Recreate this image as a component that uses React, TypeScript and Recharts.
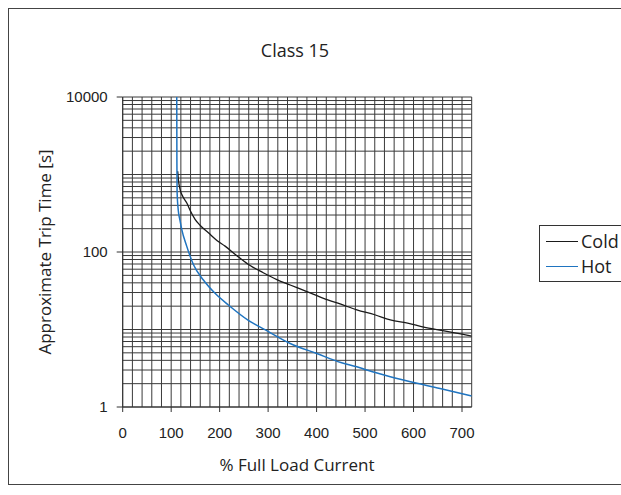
import React from 'react';
import { LineChart, Line, XAxis, YAxis, CartesianGrid, Legend } from 'recharts';

const coldCurrent = [113.5, 115, 118.3, 124, 132, 140, 149.3, 160, 176.8, 195, 211.2, 235, 259.4, 290, 318, 345.5, 380, 414.3, 450, 483, 520, 552, 590, 621, 660, 700, 720];
const coldTime = [1100, 850, 643, 520, 432, 335, 264, 220, 177, 140, 119, 90, 69, 54, 44, 37.5, 30.8, 25.2, 21.2, 17.9, 15.5, 13.3, 12, 10.7, 9.7, 8.7, 8.2];

const hotCurrent = [111.5, 111.8, 112.2, 114.8, 118, 121.8, 132, 145.8, 166.5, 190, 218, 260, 300.7, 345.5, 400.5, 450, 483, 503.8, 552, 607, 659, 720];
const hotTime = [10000, 1500, 600, 338, 260, 196, 119, 69, 43.5, 29.5, 20.7, 13, 9.4, 6.6, 4.9, 3.75, 3.31, 3.0, 2.46, 2.02, 1.71, 1.39];

const xGridTicks = [0, 20, 40, 60, 80, 100, 120, 140, 160, 180, 200, 220, 240, 260, 280, 300, 320, 340, 360, 380, 400, 420, 440, 460, 480, 500, 520, 540, 560, 580, 600, 620, 640, 660, 680, 700, 720];
const xLabelTicks = [0, 100, 200, 300, 400, 500, 600, 700];
const yGridTicks = [1, 2, 3, 4, 5, 6, 7, 8, 9, 10, 20, 30, 40, 50, 60, 70, 80, 90, 100, 200, 300, 400, 500, 600, 700, 800, 900, 1000, 2000, 3000, 4000, 5000, 6000, 7000, 8000, 9000, 10000];
const yLabelTicks = [1, 100, 10000];

const seriesNames = ['Cold', 'Hot'];
const seriesColors = ['#1a1a1a', '#1f74c0'];

const coldData = coldCurrent.map((x, i) => ({ x, y: coldTime[i] }));
const hotData = hotCurrent.map((x, i) => ({ x, y: hotTime[i] }));

const tickFont = '"Liberation Sans", Arial, sans-serif';
const labelFont = '"Open Sans", "Noto Sans", sans-serif';

const XTick = (props: any) => {
  const { x, y, payload } = props;
  if (!xLabelTicks.includes(payload.value)) return <g />;
  return (
    <g>
      <line x1={x} x2={x} y1={y} y2={y + 5} stroke="#333" />
      <text x={x} y={y + 31} textAnchor="middle" fontFamily={tickFont} fontSize={15} fill="#222">
        {payload.value}
      </text>
    </g>
  );
};

const YTick = (props: any) => {
  const { x, y, payload } = props;
  if (!yLabelTicks.includes(payload.value)) return <g />;
  return (
    <g>
      <line x1={x - 6} x2={x} y1={y} y2={y} stroke="#333" />
      <text x={x - 15} y={y + 5} textAnchor="end" fontFamily={tickFont} fontSize={15} fill="#222">
        {payload.value}
      </text>
    </g>
  );
};

const LegendBox = (props: any) => {
  const items = props.payload || [];
  return (
    <div
      style={{
        border: '1px solid #333',
        background: '#fff',
        width: 110,
        height: 57,
        boxSizing: 'border-box',
        paddingTop: 3,
        fontFamily: labelFont,
        fontSize: 18,
        color: '#222',
      }}
    >
      {items.map((it: any) => (
        <div key={it.value} style={{ display: 'flex', alignItems: 'center', height: 25, paddingLeft: 6 }}>
          <div style={{ width: 32, height: 0, borderTop: `1.5px solid ${it.color}`, marginRight: 3 }} />
          <span style={{ lineHeight: '25px', whiteSpace: 'nowrap' }}>{it.value}</span>
        </div>
      ))}
    </div>
  );
};

export default function App() {
  return (
    <div
      style={{
        position: 'fixed',
        left: 8,
        top: 8,
        width: 613,
        height: 477,
        overflow: 'hidden',
        background: '#fff',
      }}
    >
      <div
        style={{
          position: 'absolute',
          left: 0,
          top: 0,
          width: 700,
          height: 477,
          boxSizing: 'border-box',
          borderLeft: '1px solid #444',
          borderTop: '1px solid #444',
          borderBottom: '1px solid #444',
        }}
      />
      <div
        style={{
          position: 'absolute',
          left: 187,
          width: 200,
          top: 30,
          textAlign: 'center',
          fontFamily: labelFont,
          fontSize: 18,
          color: '#222',
        }}
      >
        Class 15
      </div>
      <div
        style={{
          position: 'absolute',
          left: 37 - 150,
          top: 244 - 13,
          width: 300,
          textAlign: 'center',
          transform: 'rotate(-90deg)',
          fontFamily: labelFont,
          fontSize: 17,
          lineHeight: '26px',
          color: '#222',
        }}
      >
        Approximate Trip Time [s]
      </div>
      <div
        style={{
          position: 'absolute',
          left: 139,
          width: 300,
          top: 445,
          textAlign: 'center',
          fontFamily: labelFont,
          fontSize: 17,
          color: '#222',
        }}
      >
        % Full Load Current
      </div>
      <div style={{ position: 'absolute', left: 0, top: 0, width: 613, height: 477 }}>
        <LineChart width={613} height={477} margin={{ top: 89, right: 149.3, left: 0, bottom: 48 }}>
          <CartesianGrid stroke="#3a3a3a" strokeWidth={1} fill="none" />
          <XAxis
            dataKey="x"
            type="number"
            domain={[0, 720]}
            ticks={xGridTicks}
            interval={0}
            allowDataOverflow
            height={30}
            tickSize={0}
            tickMargin={0}
            tickLine={false}
            axisLine={{ stroke: '#333' }}
            tick={<XTick />}
          />
          <YAxis
            type="number"
            scale="log"
            domain={[1, 10000]}
            ticks={yGridTicks}
            interval={0}
            allowDataOverflow
            width={114.7}
            tickSize={0}
            tickMargin={0}
            tickLine={false}
            axisLine={{ stroke: '#333' }}
            tick={<YTick />}
          />
          <Legend
            layout="vertical"
            align="center"
            verticalAlign="middle"
            content={<LegendBox />}
            wrapperStyle={{ left: 531, top: 217, width: 110, height: 57 }}
          />
          <Line
            name={seriesNames[0]}
            data={coldData}
            dataKey="y"
            type="monotone"
            stroke={seriesColors[0]}
            strokeWidth={1.3}
            dot={false}
            activeDot={false}
            isAnimationActive={false}
          />
          <Line
            name={seriesNames[1]}
            data={hotData}
            dataKey="y"
            type="monotone"
            stroke={seriesColors[1]}
            strokeWidth={1.5}
            dot={false}
            activeDot={false}
            isAnimationActive={false}
          />
        </LineChart>
      </div>
    </div>
  );
}
